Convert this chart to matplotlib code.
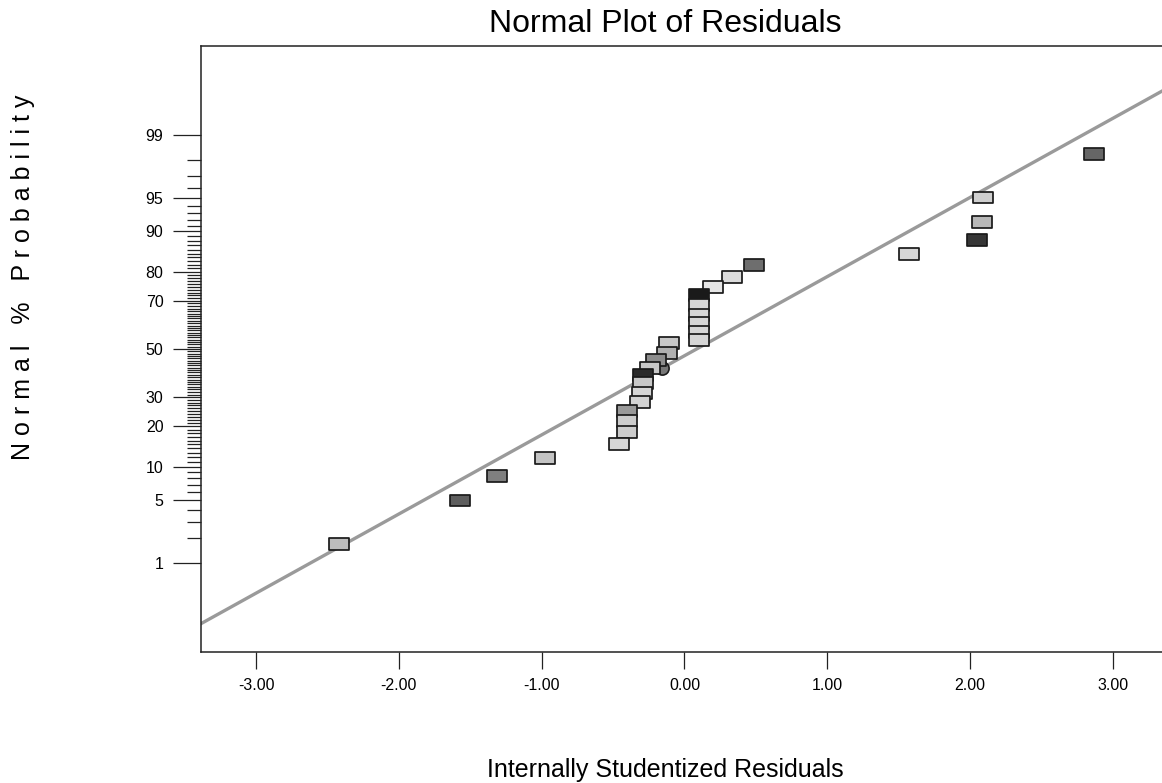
import statistics
import matplotlib
matplotlib.use("Agg")
import matplotlib.pyplot as plt
from matplotlib.path import Path

# --------------------------------------------------
# DATA
# --------------------------------------------------
residuals = [-2.42, -1.57, -1.31, -0.98, -0.46, -0.40, -0.40, -0.40, -0.31, -0.30,
             -0.29, -0.29, -0.24, -0.20, -0.12, -0.11, 0.10, 0.10, 0.10, 0.10,
             0.10, 0.105, 0.20, 0.33, 0.49, 1.57, 2.05, 2.08, 2.09, 2.87]
normal_pct = [1.7, 5.0, 8.4, 11.8, 15.1, 18.4, 21.7, 25.0, 28.2, 31.6,
              35.6, 38.9, 41.8, 45.2, 48.3, 52.6, 53.9, 57.3, 61.1, 64.4,
              68.4, 72.1, 75.0, 78.3, 81.9, 84.9, 88.2, 91.6, 95.0, 98.3]
fill_grays = ["#bdbdbd", "#5e5e5e", "#7f7f7f", "#c4c4c4", "#d6d6d6", "#cccccc",
              "#cccccc", "#999999", "#d3d3d3", "#d6d6d6", "#c8c8c8", "#2b2b2b",
              "#c8c8c8", "#8c8c8c", "#b0b0b0", "#c8c8c8", "#d6d6d6", "#d6d6d6",
              "#d6d6d6", "#d6d6d6", "#d6d6d6", "#1a1a1a", "#e6e6e6", "#dcdcdc",
              "#6e6e6e", "#d6d6d6", "#363636", "#b8b8b8", "#cfcfcf", "#666666"]

# one run drawn as a circle, partly hidden behind its neighbour
circle_residual = -0.16
circle_pct = 41.8
circle_gray = "#777777"

# reference line (z = slope * residual + intercept)
LINE_SLOPE = 0.86
LINE_INTERCEPT = -0.073

x_ticks = [-3.0, -2.0, -1.0, 0.0, 1.0, 2.0, 3.0]
y_major_pct = [1, 5, 10, 20, 30, 50, 70, 80, 90, 95, 99]
y_minor_pct = [p for p in range(1, 100) if p not in y_major_pct]

nd = statistics.NormalDist()


def probit(p):
    return nd.inv_cdf(p / 100.0)


# --------------------------------------------------
# FIGURE
# --------------------------------------------------
plt.rcParams["font.family"] = ["Liberation Sans", "DejaVu Sans"]
plt.rcParams["axes.unicode_minus"] = False

fig = plt.figure(figsize=(11.62, 7.83), dpi=100)
ax = fig.add_axes([201 / 1162, 131 / 783, 961 / 1162, 606 / 783])

ax.set_xlim(-3.386, 3.344)
ax.set_ylim(-3.293, 3.293)

for side in ["left", "bottom", "top"]:
    ax.spines[side].set_linewidth(1.1)
    ax.spines[side].set_color("#222222")
ax.spines["right"].set_visible(False)

ax.set_xticks(x_ticks)
ax.set_xticklabels([f"{v:.2f}" for v in x_ticks])
ax.set_yticks([probit(p) for p in y_major_pct])
ax.set_yticklabels([str(p) for p in y_major_pct])
ax.set_yticks([probit(p) for p in y_minor_pct], minor=True)

ax.tick_params(axis="x", length=12, width=0.9, pad=7, labelsize=11.5, color="#222222")
ax.tick_params(axis="y", which="major", length=20, width=0.9, pad=7, labelsize=11.5, color="#222222")
ax.tick_params(axis="y", which="minor", length=10, width=0.9, color="#222222")

# fitted line
ax.axline((0, LINE_INTERCEPT), slope=LINE_SLOPE, color="#9a9a9a", lw=2.4, zorder=2)

# points (rectangles), higher ranks drawn first
rect = Path([(-1, -0.58), (1, -0.58), (1, 0.58), (-1, 0.58), (-1, -0.58)], closed=True)
zs = [probit(p) for p in normal_pct]
ax.scatter(residuals[::-1], zs[::-1], s=14.4 ** 2, marker=rect, c=fill_grays[::-1],
           edgecolors="#1a1a1a", linewidths=1.25, zorder=4)
ax.scatter([circle_residual], [probit(circle_pct)], s=9.5 ** 2, marker="o",
           c=circle_gray, edgecolors="#1a1a1a", linewidths=1.2, zorder=3)

# texts
fig.text(0.5723, 0.959, "Normal Plot of Residuals", ha="center", va="baseline", fontsize=23)
fig.text(0.5723, 0.0077, "Internally Studentized Residuals", ha="center", va="baseline", fontsize=18)
fig.text(0.0198, 0.646, "N o r m a l   %   P r o b a b i l i t y", rotation=90,
         ha="center", va="center", fontsize=18)

fig.savefig("out.png", dpi=100)
